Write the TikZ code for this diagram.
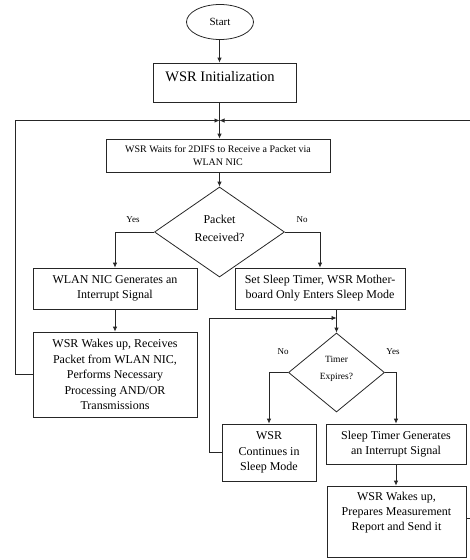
\documentclass[tikz,border=0pt]{standalone}
\usepackage{fontspec}
\setmainfont{Liberation Serif}
\usetikzlibrary{shapes.geometric,arrows.meta}
\begin{document}
\begin{tikzpicture}[x=1pt,y=-1pt,
  line width=0.8pt, font=\rmfamily,
  line/.style={draw=black!85},
  box/.style={draw=black!85,rectangle,inner sep=0pt,align=center,font=\rmfamily\fontsize{12}{15}\selectfont},
  dia/.style={draw=black!85,diamond,inner sep=0pt,align=center},
  txt/.style={align=center,inner sep=0pt},
  arr/.style={draw=black!85,-{Latex[length=5pt,width=4.5pt]}},
  lbl/.style={font=\rmfamily\fontsize{9}{10}\selectfont,inner sep=0pt}]
\useasboundingbox (0,0) rectangle (470,560);

% nodes
\node[draw=black!85,ellipse,minimum width=67pt,minimum height=35pt,inner sep=0pt,font=\rmfamily\fontsize{11}{12}\selectfont] (start) at (220,22) {Start};
\node[box,minimum width=143pt,minimum height=39pt] (init) at (224.5,82.5) {};
\node[txt,font=\rmfamily\fontsize{14.5}{17}\selectfont] (initt) at (220,77) {WSR Initialization};

\coordinate (j) at (219.5,120.5);
\coordinate (re) at (470,120.5);

\node[box,minimum width=224pt,minimum height=33pt,font=\rmfamily\fontsize{10}{13}\selectfont] (wait) at (218,155.5) {WSR Waits for 2DIFS to Receive a Packet via\\WLAN NIC};

\node[dia,minimum width=130pt,minimum height=90pt,aspect=1.44] (pkt) at (219.5,232) {};
\node[txt,font=\rmfamily\fontsize{12}{18}\selectfont] (pktt) at (219.5,228) {Packet\\Received?};
\node[lbl] (yes1) at (133,220) {Yes};
\node[lbl] (no1) at (302,220) {No};

\node[box,minimum width=164pt,minimum height=41pt] (wlan) at (115,288.5) {WLAN NIC Generates an\\Interrupt Signal};
\node[box,minimum width=170pt,minimum height=41pt] (sleep) at (320,288.5) {Set Sleep Timer, WSR Mother-\\board Only Enters Sleep Mode};
\node[box,minimum width=164pt,minimum height=85pt,font=\rmfamily\fontsize{12}{15.5}\selectfont] (wakes1) at (115,374.5) {WSR Wakes up, Receives\\Packet from WLAN NIC,\\Performs Necessary\\Processing AND/OR\\Transmissions};

\coordinate (k) at (336.5,318);
\node[dia,minimum width=96pt,minimum height=79pt,aspect=1.2] (timer) at (336.5,372.5) {};
\node[txt,font=\rmfamily\fontsize{9.5}{17}\selectfont] (timert) at (336.5,368.5) {Timer\\Expires?};
\node[lbl] (no2) at (283,352) {No};
\node[lbl] (yes2) at (393,352) {Yes};

\node[box,minimum width=94pt,minimum height=57pt,font=\rmfamily\fontsize{12}{15.5}\selectfont] (cont) at (269,452.5) {WSR\\Continues in\\Sleep Mode};
\node[box,minimum width=140pt,minimum height=40pt] (stimer) at (396,444) {Sleep Timer Generates\\an Interrupt Signal};
\node[box,minimum width=139pt,minimum height=71pt] (wakes2) at (396.5,521.5) {};
\node[txt,font=\rmfamily\fontsize{12}{15}\selectfont] (wakes2t) at (396.5,513) {WSR Wakes up,\\Prepares Measurement\\Report and Send it};
\coordinate (re2) at (470,518.5);

% connectors
\draw[arr] (start.south -| j) -- (init.north -| j);
\draw[line] (init.south -| j) -- (j);
\draw[arr] (re) -- (j);
\draw[arr] (wakes1.west) -- ++(-17,0) |- (j);
\draw[arr] (j) -- (wait.north -| j);
\draw[arr] (wait.south -| j) -- (pkt.north);
\draw[arr] (pkt.west) -| (wlan.north);
\draw[arr] (pkt.east) -| (sleep.north);
\draw[arr] (wlan) -- (wakes1);
\draw[line] (sleep.south -| k) -- (k);
\draw[arr] (k) -- (timer.north);
\draw[arr] (cont.west) -- ++(-12,0) |- (k);
\draw[arr] (timer.west) -| (cont.north);
\draw[arr] (timer.east) -| (stimer.north);
\draw[arr] (stimer.south) -- (stimer.south |- wakes2.north);
\draw[line] (wakes2.east |- re2) -- (re2);
\end{tikzpicture}
\end{document}
